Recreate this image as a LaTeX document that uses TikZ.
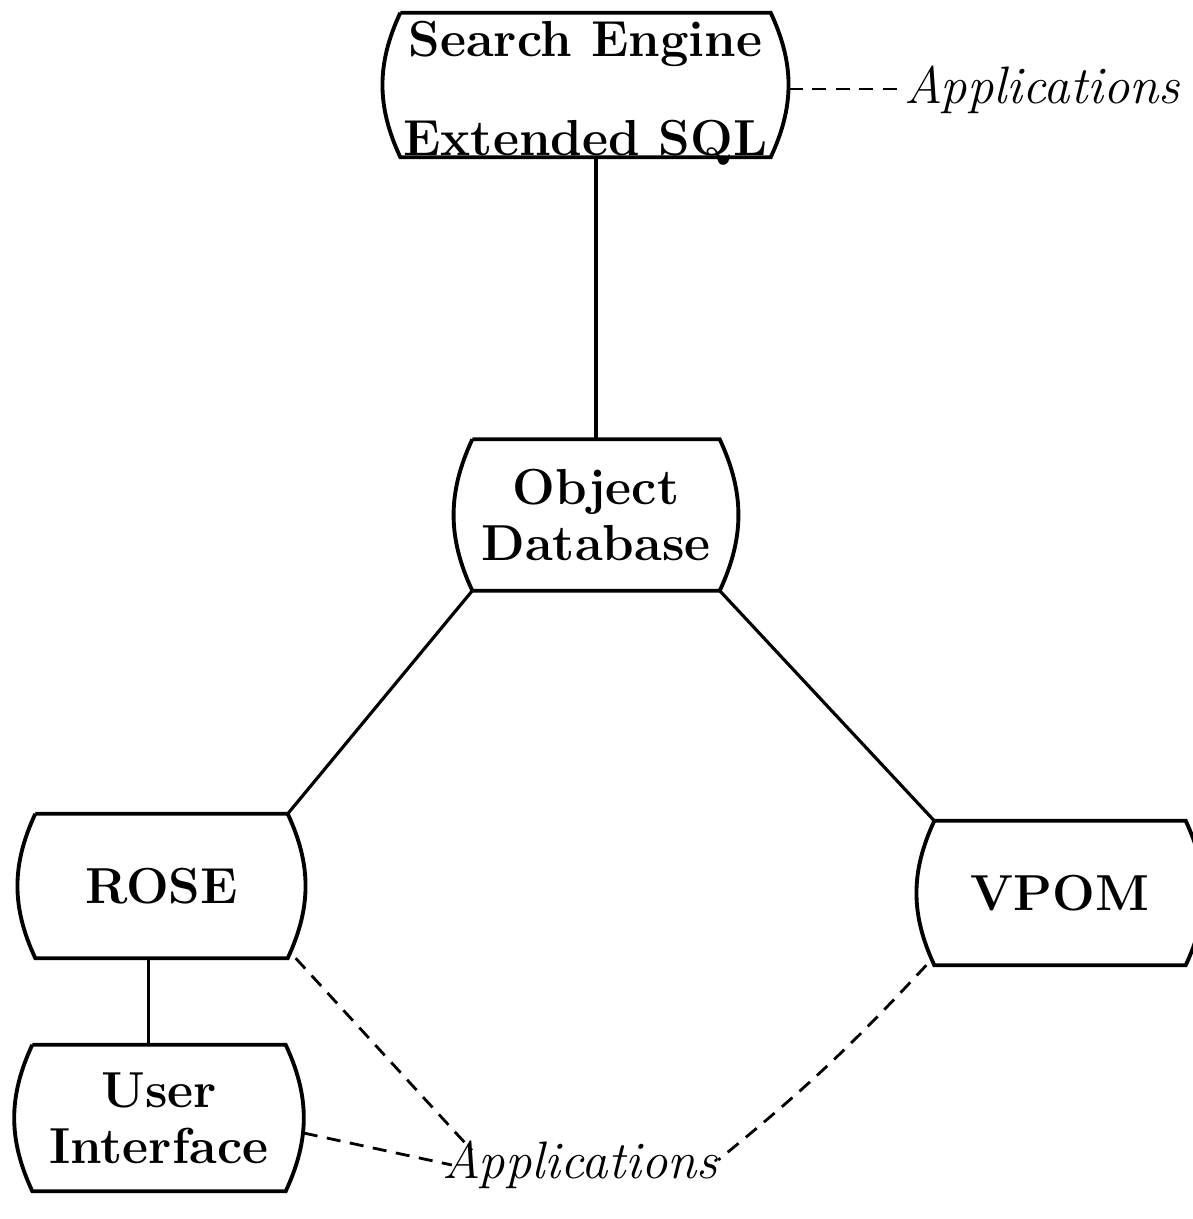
\documentclass[tikz,border=0pt]{standalone}
\usetikzlibrary{calc}

\newcommand{\boxfont}{\fontsize{14.4}{16}\selectfont\bfseries}
\newcommand{\appfont}{\fontsize{15}{17}\selectfont\itshape}
\newcommand{\drumedge}{0.18cm}
% outline of a box: straight top and bottom, bulging sides
\newcommand{\drum}[1]{%
  \draw[boxline] ([xshift=\drumedge]#1.north west) -- ([xshift=-\drumedge]#1.north east)
    to[bend left=25] ([xshift=-\drumedge]#1.south east) -- ([xshift=\drumedge]#1.south west)
    to[bend left=25] ([xshift=\drumedge]#1.north west);}

\begin{document}
\begin{tikzpicture}[
    every node/.style={inner sep=0pt},
    drumbox/.style={minimum width=#1, minimum height=1.43cm, align=center, font=\boxfont},
    app/.style={font=\appfont},
    boxline/.style={line width=1.1pt},
    link/.style={line width=0.9pt},
    applink/.style={line width=0.8pt, dash pattern=on 4pt off 2.7pt}
  ]
  \useasboundingbox (0,0) rectangle (11.92,-12.19);

  % boxes
  \node[drumbox=4.05cm] (search) at (5.855,-0.85)
    {\rule{0pt}{0.42cm}Search Engine\\[0.42cm]\raisebox{0pt}[\height][0pt]{Extended SQL}};
  \node[drumbox=2.82cm, minimum height=1.5cm] (odb) at (5.96,-5.15) {Object\\Database};
  \node[drumbox=2.87cm] (rose) at (1.615,-8.86) {ROSE};
  \node[drumbox=2.86cm] (vpom) at (10.60,-8.93) {VPOM};
  \node[drumbox=2.88cm, minimum height=1.45cm] (ui) at (1.59,-11.18) {User\\Interface};
  \foreach \n in {search,odb,rose,vpom,ui} {
    \drum{\n}
  }

  % application labels
  \node[app] (appstop) at (10.42,-0.90) {Applications};
  \node[app] (appsbot) at (5.80,-11.65) {Applications};

  % solid links
  \draw[link] (search.south -| odb.north) -- (odb.north);
  \draw[link] ([xshift=\drumedge]odb.south west) -- ([xshift=-\drumedge]rose.north east);
  \draw[link] ([xshift=-\drumedge]odb.south east) -- ([xshift=\drumedge]vpom.north west);
  \draw[link] ([xshift=-1.3mm]rose.south) -- ([xshift=-1.3mm]rose.south |- ui.north);

  % dashed links to applications
  \draw[applink] ([yshift=-0.4mm]search.east) -- ([yshift=-0.4mm]search.east -| appstop.west);
  \draw[applink] ([xshift=-1mm]rose.south east) -- ([xshift=3mm,yshift=-1mm]appsbot.north west);
  \draw[applink] ([yshift=-1.5mm]ui.east) -- ([xshift=1mm]appsbot.west);
  \draw[applink] ([xshift=0.1cm]vpom.south west) to[bend left=4] ([yshift=0.5mm]appsbot.east);
\end{tikzpicture}
\end{document}
